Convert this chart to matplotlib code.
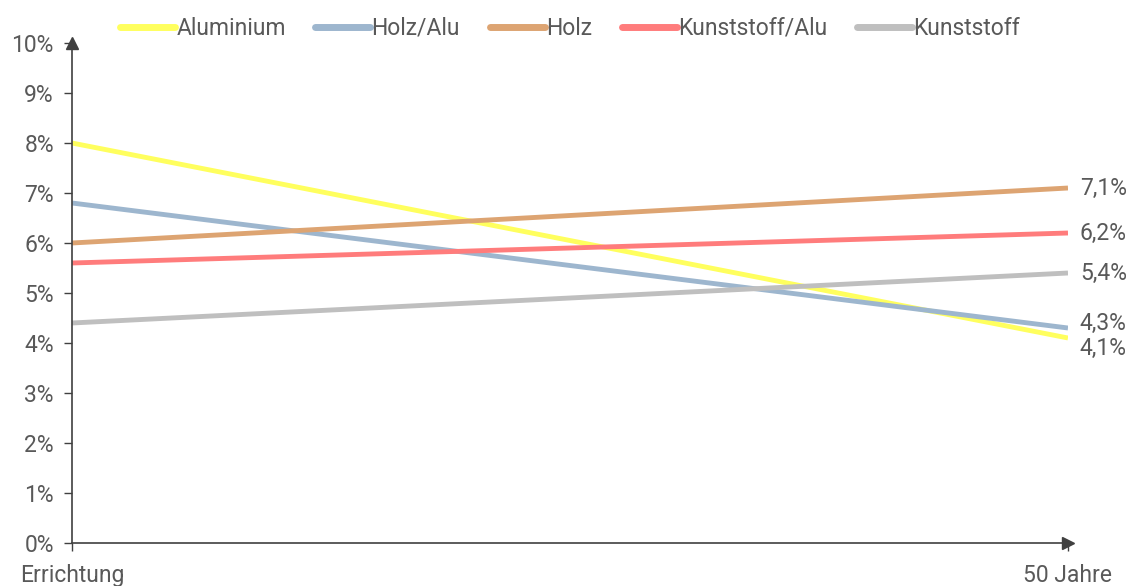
import matplotlib.pyplot as plt
from matplotlib.ticker import FuncFormatter

plt.rcParams['font.family'] = ['Roboto', 'DejaVu Sans']

years = [0, 50]
series = ['Aluminium', 'Holz/Alu', 'Holz', 'Kunststoff/Alu', 'Kunststoff']
start_vals = [8.0, 6.8, 6.0, 5.6, 4.4]
end_vals = [4.1, 4.3, 7.1, 6.2, 5.4]
end_labels = ['4,1%', '4,3%', '7,1%', '6,2%', '5,4%']
label_shift = [-0.2, 0.1, 0, 0, 0]  # keep 4,1/4,3 apart
colors = ['#FFFF5E', '#9DB6CE', '#DDA472', '#FF7C7C', '#BFBFBF']

txt = '#595959'
fig = plt.figure(figsize=(11.37, 5.86), dpi=100)
ax = fig.add_axes([0.0633, 0.0734, 0.876, 0.8532])

for name, a, b, c in zip(series, start_vals, end_vals, colors):
    ax.plot(years, [a, b], color=c, lw=3.5, label=name, solid_capstyle='butt')

for b, lab, s in zip(end_vals, end_labels, label_shift):
    ax.text(50.6, b + s, lab, fontsize=16.5, color=txt, va='center', ha='left')

ax.set_xlim(0, 50)
ax.set_ylim(0, 10)
ax.set_yticks(range(0, 11))
ax.yaxis.set_major_formatter(FuncFormatter(lambda v, p: '%d%%' % v))
ax.set_xticks([0, 50])
ax.set_xticklabels(['Errichtung', '50 Jahre'])
ax.tick_params(axis='both', colors='#404040', labelcolor=txt, labelsize=16.5, length=6, width=1)
ax.tick_params(axis='y', pad=7)
ax.tick_params(axis='x', pad=9)

for s in ['top', 'right']:
    ax.spines[s].set_visible(False)
for s in ['left', 'bottom']:
    ax.spines[s].set_color('#404040')
    ax.spines[s].set_linewidth(1.2)

# arrow heads on the axes
ax.plot(0, 1, '^', color='#404040', ms=9, transform=ax.transAxes, clip_on=False)
ax.plot(1, 0, '>', color='#404040', ms=9, transform=ax.transAxes, clip_on=False)

leg = ax.legend(loc='lower center', bbox_to_anchor=(0.5, 0.965), ncol=5, frameon=False,
                fontsize=16.5, handlelength=2.4, handletextpad=0.05, columnspacing=1.3)
for t in leg.get_texts():
    t.set_color(txt)
for h in leg.get_lines():
    h.set_linewidth(5)
    h.set_solid_capstyle('round')

fig.savefig('out.png', dpi=100)
